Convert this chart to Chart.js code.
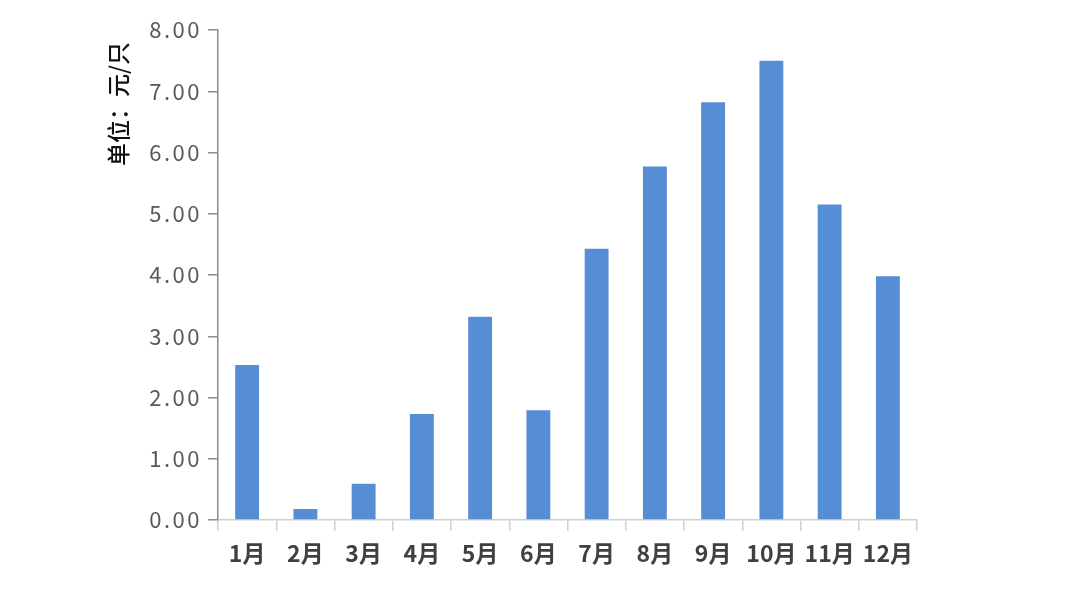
<!DOCTYPE html>
<html>
<head>
<meta charset="utf-8">
<script src="https://cdn.jsdelivr.net/npm/chart.js@4/dist/chart.umd.min.js"></script>
<style>
html,body{margin:0;padding:0;background:#ffffff;}
#wrap{width:1080px;height:595px;position:relative;}
</style>
</head>
<body>
<div id="wrap"><canvas id="c" width="1080" height="595"></canvas></div>
<script>
const categories = ['1月','2月','3月','4月','5月','6月','7月','8月','9月','10月','11月','12月'];
const prices = [2.53, 0.18, 0.59, 1.73, 3.32, 1.79, 4.43, 5.77, 6.82, 7.50, 5.15, 3.98];
const yTitle = '单位：元/只';

const yTitlePlugin = {
  id: 'yTitlePlugin',
  afterLayout(chart) {
    const s = chart.scales.y;
    if (s && !s._spaced) {
      const orig = s.drawLabels.bind(s);
      s.drawLabels = function (ca) {
        const ctx = this.ctx;
        ctx.save();
        ctx.letterSpacing = '2.5px';
        orig(ca);
        ctx.restore();
      };
      s._spaced = true;
    }
  },
  afterDraw(chart) {
    const ctx = chart.ctx;
    ctx.save();
    ctx.translate(118, 104);
    ctx.rotate(-Math.PI / 2);
    ctx.font = '500 23px "Noto Sans CJK SC"';
    ctx.fillStyle = '#111111';
    ctx.textAlign = 'center';
    ctx.textBaseline = 'middle';
    ctx.fillText(yTitle, 0, 0);
    ctx.restore();
  }
};

new Chart(document.getElementById('c'), {
  type: 'bar',
  data: {
    labels: categories,
    datasets: [{
      data: prices,
      backgroundColor: '#568ed5',
      categoryPercentage: 1.0,
      barPercentage: 0.41
    }]
  },
  options: {
    responsive: false,
    animation: false,
    layout: { padding: { left: 0, right: 163, top: 30, bottom: 0 } },
    plugins: { legend: { display: false }, tooltip: { enabled: false } },
    scales: {
      x: {
        offset: true,
        grid: { display: true, drawOnChartArea: false, offset: true, tickLength: 11, color: '#d0d0d0', lineWidth: 1.5 },
        border: { display: true, color: '#d0d0d0', width: 1.5 },
        ticks: { color: '#404040', font: { family: '"Noto Sans CJK SC"', size: 23, weight: 'bold' }, padding: 8, maxRotation: 0, autoSkip: false },
        afterFit(scale) { scale.height = 75; }
      },
      y: {
        min: 0, max: 8,
        ticks: { stepSize: 1, color: '#595959', font: { family: '"Noto Sans CJK SC"', size: 22 }, padding: 6,
          callback: v => Number(v).toFixed(2) },
        grid: { display: true, drawOnChartArea: false, tickLength: 10, color: '#8c8c8c', lineWidth: 1.5 },
        border: { display: true, color: '#8c8c8c', width: 1.5 },
        afterFit(scale) { scale.width = 218; }
      }
    }
  },
  plugins: [yTitlePlugin]
});
</script>
</body>
</html>
